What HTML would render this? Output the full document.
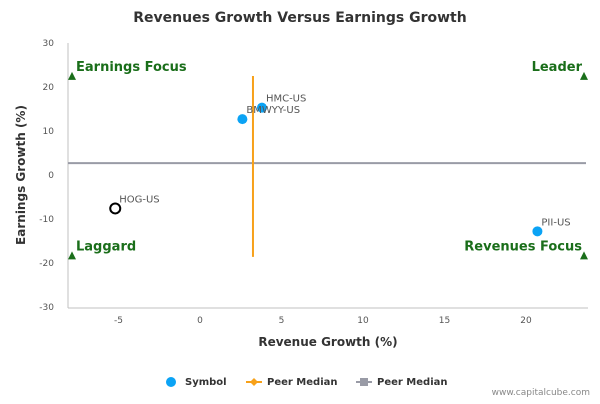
<!DOCTYPE html>
<html><head><meta charset="utf-8"><style>
body{margin:0;background:#fff;font-family:"DejaVu Sans","Liberation Sans",sans-serif}
svg text{font-family:"DejaVu Sans","Liberation Sans",sans-serif}
</style></head><body>
<svg id="c" width="600" height="400" xmlns="http://www.w3.org/2000/svg">
<text x="300" y="22" text-anchor="middle" font-size="14" font-weight="bold" fill="#333">Revenues Growth Versus Earnings Growth</text>
<g id="grid"></g><g id="marks"></g>
<text x="328" y="346" text-anchor="middle" font-size="12" font-weight="bold" fill="#333">Revenue Growth (%)</text>
<text transform="translate(25,175) rotate(-90)" text-anchor="middle" font-size="12" font-weight="bold" fill="#333">Earnings Growth (%)</text>
<g font-size="10" font-weight="bold" fill="#333">
<circle cx="171" cy="382" r="5" fill="#0ba3f5"/>
<text x="185" y="385">Symbol</text>
<line x1="246" y1="382" x2="262" y2="382" stroke="#f7a11a" stroke-width="2"/><path d="M254 378 L258 382 L254 386 L250 382Z" fill="#f7a11a"/>
<text x="267" y="385">Peer Median</text>
<line x1="356" y1="382" x2="372" y2="382" stroke="#999ba6" stroke-width="2"/><rect x="360" y="378" width="8" height="8" fill="#999ba6"/>
<text x="377" y="385">Peer Median</text>
</g>
<text x="590" y="395" text-anchor="end" font-size="9" fill="#888">www.capitalcube.com</text>
</svg>
<script>
const xTicks=[-5,0,5,10,15,20];
const yTicks=[30,20,10,0,-10,-20,-30];
const names=["HMC-US","BMWYY-US","HOG-US","PII-US"];
const revGrowth=[3.8,2.6,-5.2,20.7];
const earnGrowth=[15.3,12.7,-7.6,-12.8];
const hollow=[false,false,true,false];
const peerMedianX=3.25, peerMedianY=2.7;
const vRange=[22.5,-18.6];
const quadrants=["Earnings Focus","Leader","Laggard","Revenues Focus"];
const x=v=>200+v*16.3, y=v=>175-v*4.4;
const NS="http://www.w3.org/2000/svg";
function mk(p,t,a){const e=document.createElementNS(NS,t);for(const k in a)e.setAttribute(k,a[k]);p.appendChild(e);return e;}
const g=document.getElementById('grid'),m=document.getElementById('marks');
mk(g,'line',{x1:68,x2:588,y1:x===0?0:y(-30)+1,y2:y(-30)+1,stroke:'#c0c0c0'});
mk(g,'line',{x1:68,x2:68,y1:y(30),y2:y(-30)+1,stroke:'#c0c0c0'});
xTicks.forEach(t=>{const e=mk(g,'text',{x:x(t),y:y(-30)+16,'text-anchor':'middle','font-size':9,fill:'#555'});e.textContent=t;
});
yTicks.forEach(t=>{const e=mk(g,'text',{x:54,y:y(t)+3,'text-anchor':'end','font-size':9,fill:'#555'});e.textContent=t;
});
let h=mk(m,'line',{x1:68,x2:586,y1:y(peerMedianY),y2:y(peerMedianY),stroke:'#999ba6','stroke-width':2});

let v=mk(m,'line',{x1:x(peerMedianX),x2:x(peerMedianX),y1:y(vRange[0]),y2:y(vRange[1]),stroke:'#f7a11a','stroke-width':2});

const qp=[[72,22.3,'start',76,-6],[584,22.3,'end',582,-6],[72,-18.5,'start',76,-6],[584,-18.5,'end',582,-6]];
quadrants.forEach((q,i)=>{const [tx,tv,an,lx,dy]=qp[i];
const p=mk(m,'path',{d:`M${tx} ${y(tv)-5} L${tx+4} ${y(tv)+3} L${tx-4} ${y(tv)+3}Z`,fill:'#1a6e1a'});

const t=mk(m,'text',{x:lx,y:y(tv)+dy,'text-anchor':an,'font-size':13,'font-weight':'bold',fill:'#1a6e1a'});t.textContent=q;
});
names.forEach((n,i)=>{const c=mk(m,'circle',{cx:x(revGrowth[i]),cy:y(earnGrowth[i]),r:hollow[i]?5:5,fill:hollow[i]?'#fff':'#0ba3f5',stroke:hollow[i]?'#000':'none','stroke-width':2});

const t=mk(m,'text',{x:x(revGrowth[i])+4,y:y(earnGrowth[i])-6,'font-size':10,fill:'#555'});t.textContent=n;
});
</script>
</body></html>
